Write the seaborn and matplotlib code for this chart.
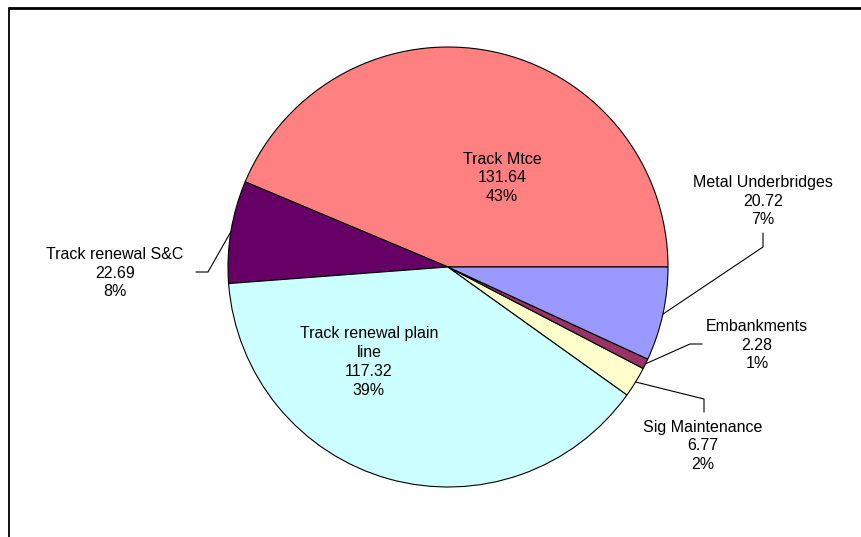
import numpy as np
import matplotlib
matplotlib.use("Agg")
import matplotlib.pyplot as plt
import seaborn as sns

categories = ["Track Mtce", "Track renewal S&C", "Track renewal plain\nline",
              "Sig Maintenance", "Embankments", "Metal Underbridges"]
values = [131.64, 22.69, 117.32, 6.77, 2.28, 20.72]
value_labels = ["131.64", "22.69", "117.32", "6.77", "2.28", "20.72"]
pct_labels = ["43%", "8%", "39%", "2%", "1%", "7%"]
colors = ["#FF8080", "#660066", "#CCFFFF", "#FFFFCC", "#993366", "#9999FF"]

sns.set_theme(style="white")
plt.rcParams['font.family'] = ['Liberation Sans', 'DejaVu Sans']

W, H = 862, 537
fig = plt.figure(figsize=(W / 100, H / 100), dpi=100)
fig.patch.set_facecolor("white")

cx, cy, R = 448, 267, 220
ax = fig.add_axes([(cx - R) / W, (H - (cy + R)) / H, 2 * R / W, 2 * R / H])

wedges, _ = ax.pie(values, colors=colors, startangle=0, counterclock=True,
                   radius=1, wedgeprops=dict(edgecolor="black", linewidth=0.8))
ax.set_xlim(-1, 1)
ax.set_ylim(-1, 1)
ax.set_aspect("equal")
ax.axis("off")

def px2d(px, py):
    return ((px - cx) / R, (cy - py) / R)

# label layout: (text centre in px, leader elbow points in px or None)
layout = {
    0: ((502, 178), None),
    1: ((115, 273), [(196, 272), (208, 272)]),
    2: ((369, 362), None),
    3: ((703, 446), [(704, 412), (704, 399)]),
    4: ((757, 345), [(702, 344), (690, 344)]),
    5: ((763, 201), [(763, 233), (763, 247)]),
}

fs = 11.5
for i, w in enumerate(wedges):
    (tx, ty), elbow = layout[i]
    txt = f"{categories[i]}\n{value_labels[i]}\n{pct_labels[i]}"
    x, y = px2d(tx, ty)
    ax.text(x, y, txt, ha="center", va="center", fontsize=fs, color="black",
            linespacing=1.32, clip_on=False)
    if elbow is not None:
        mid = np.deg2rad((w.theta1 + w.theta2) / 2)
        pts = [px2d(*p) for p in elbow] + [(np.cos(mid), np.sin(mid))]
        xs, ys = zip(*pts)
        ax.plot(xs, ys, color="black", linewidth=0.8, clip_on=False)

# chart frame (extends past the right/bottom edges)
fig.add_artist(plt.Line2D([9 / W, 1.0], [1 - 8 / H, 1 - 8 / H], color="black",
                          linewidth=2, transform=fig.transFigure))
fig.add_artist(plt.Line2D([9 / W, 9 / W], [1 - 8 / H, 0.0], color="black",
                          linewidth=1.3, transform=fig.transFigure))

fig.savefig("out.png", dpi=100)
